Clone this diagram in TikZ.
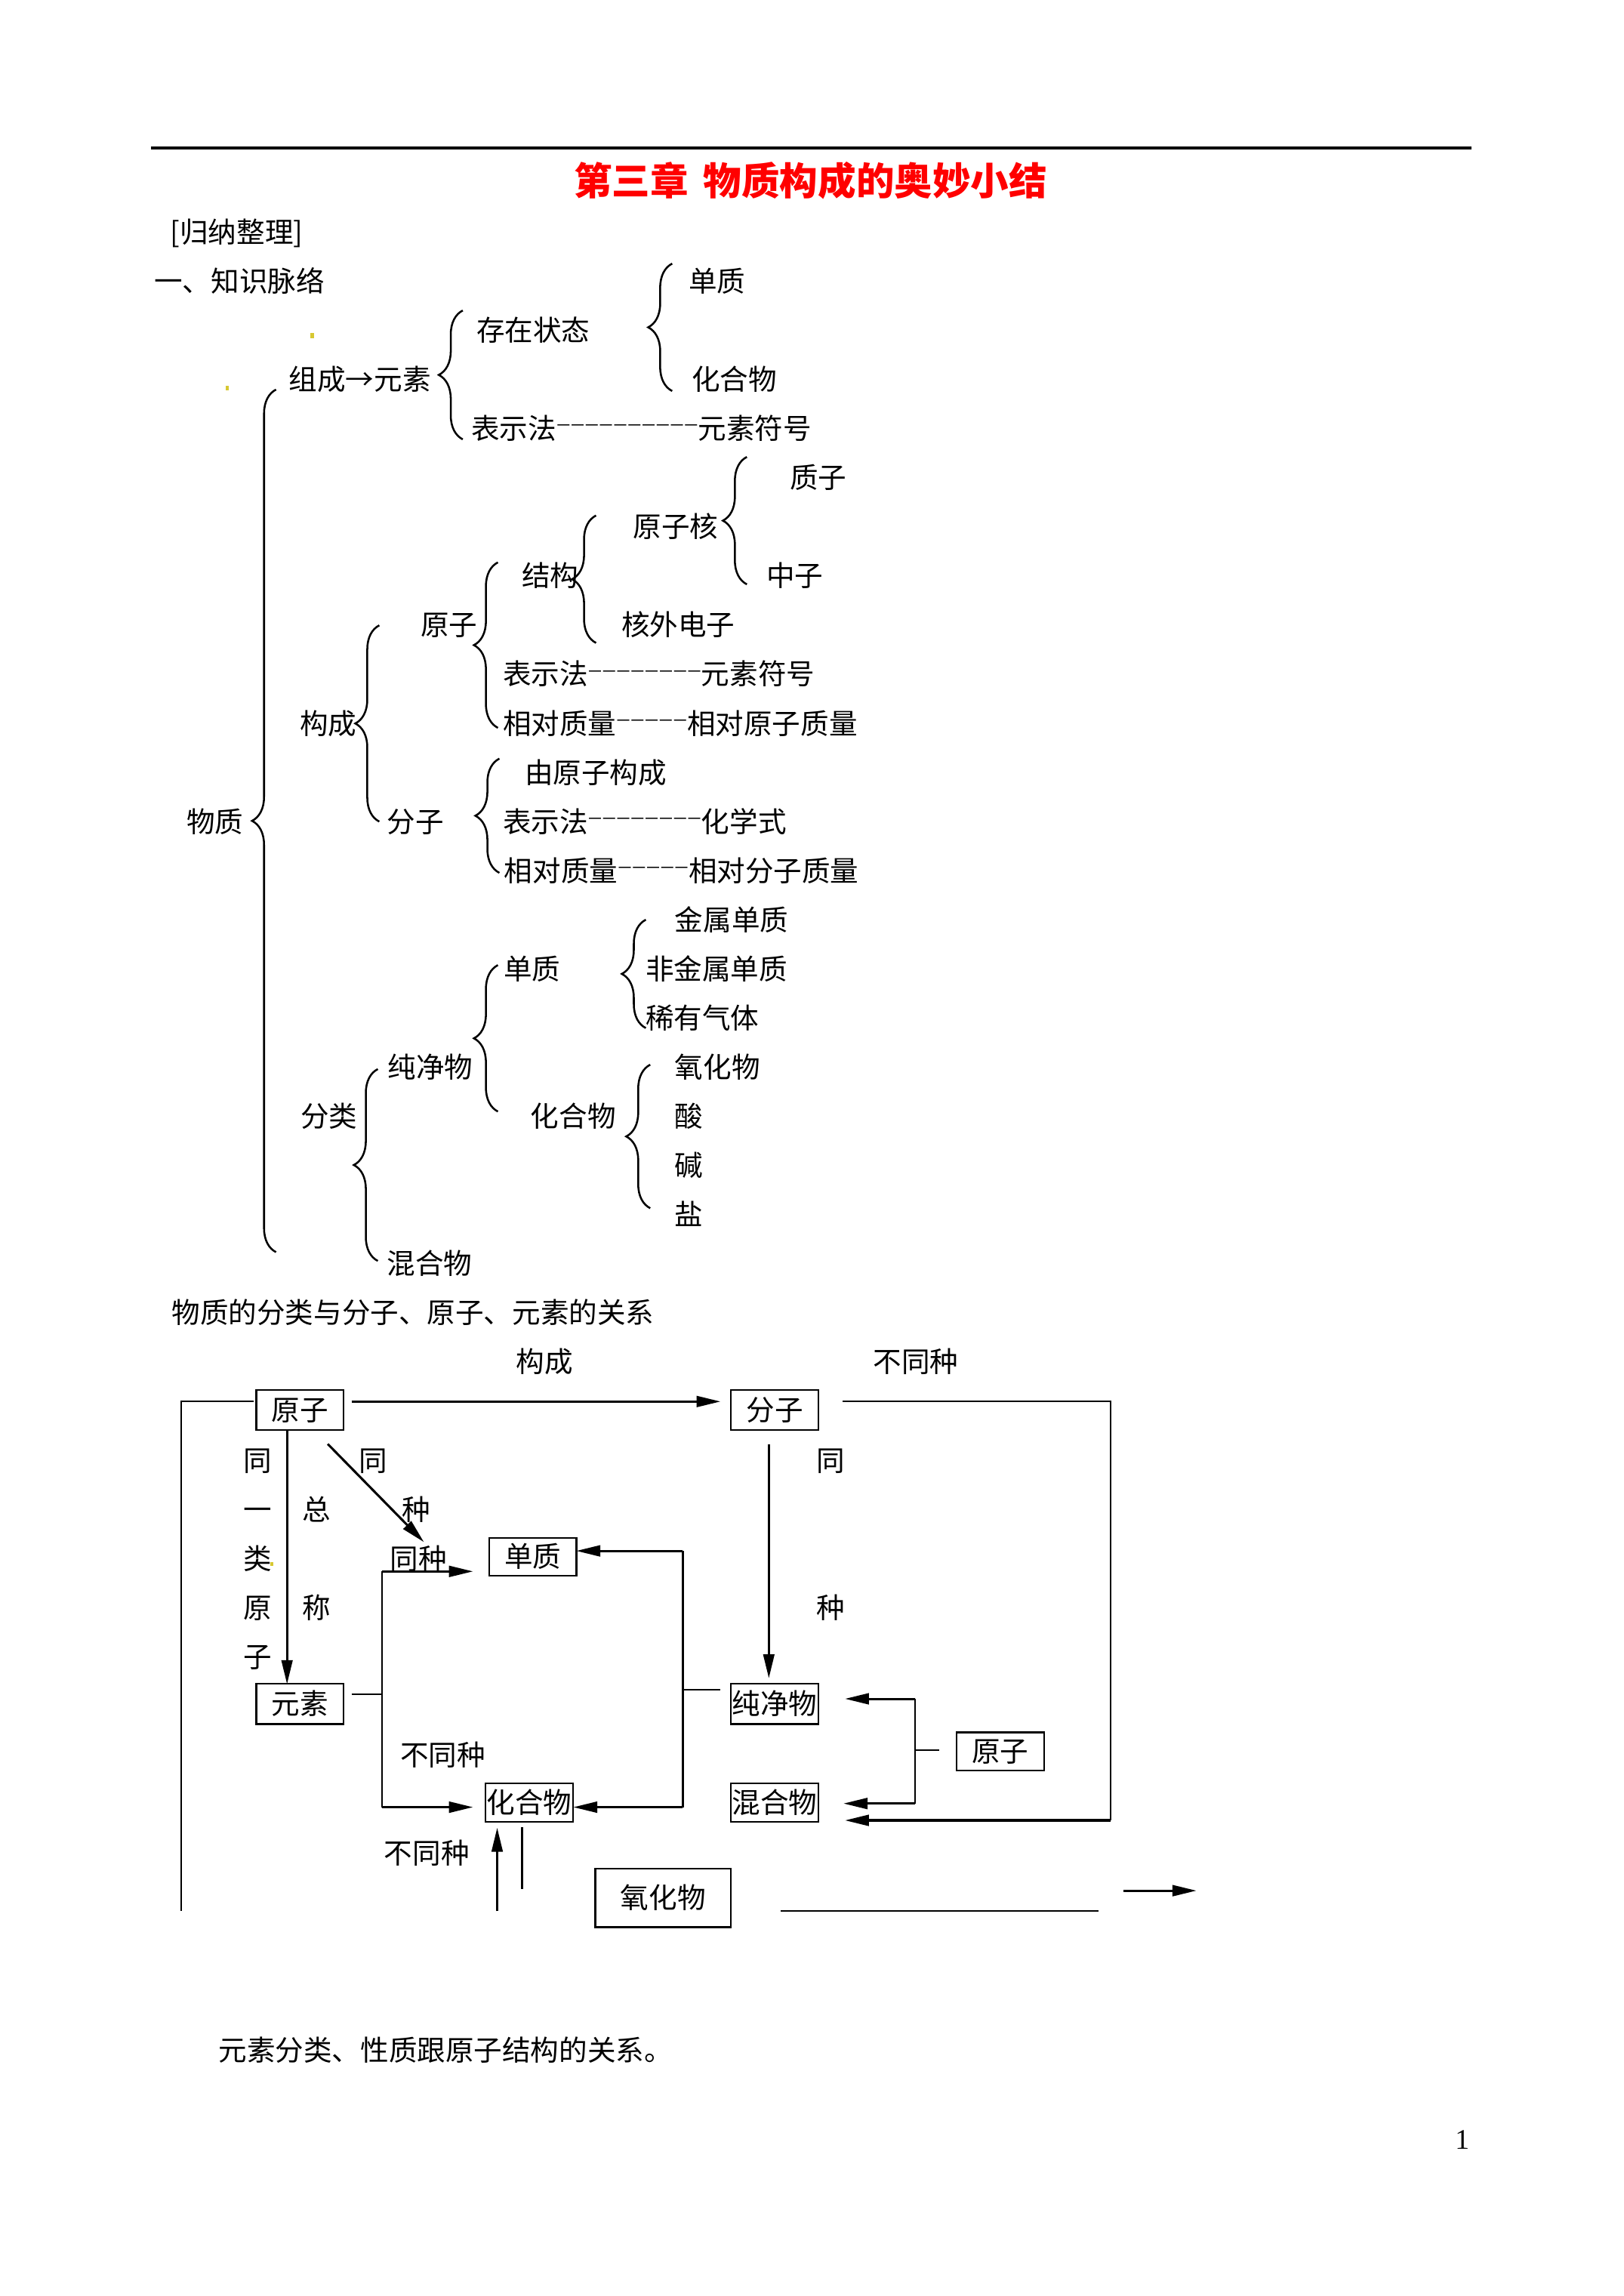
\documentclass[tikz,border=0pt]{standalone}
\usepackage{fontspec}
\newfontfamily\zh{Noto Sans CJK SC}
\newfontfamily\lat{Liberation Serif}
\usetikzlibrary{decorations.pathreplacing,arrows.meta}
\newcommand\dsh{\kern0.45pt\raisebox{3pt}{\lat\fontsize{8.6pt}{10pt}\selectfont –}\kern0.45pt}
\begin{document}
\begin{tikzpicture}[x=0.537pt,y=-0.537pt,
  txt/.style={inner sep=0pt,anchor=west,font=\zh\fontsize{10.4pt}{12pt}\selectfont,text height=8.5pt,text depth=0.83pt},
  ttl/.style={inner sep=0pt,anchor=center,text=red,font=\zh\bfseries\fontsize{14pt}{16pt}\selectfont},
  box/.style={draw,line width=0.6pt,inner sep=0pt,minimum width=32pt,minimum height=14.77pt,font=\zh\fontsize{10.4pt}{12pt}\selectfont,text height=8.5pt,text depth=0.83pt},
  brc/.style={draw,line width=0.7pt,decorate,decoration={brace,amplitude=8.8pt}},
  arr/.style={draw,line width=0.85pt,-{Triangle[length=8.8pt,width=4pt]}},
  ln/.style={draw,line width=0.6pt},
  speck/.style={fill={rgb,255:red,215;green,200;blue,50}}]
\fill[white] (0,0) rectangle (1108.5,1567.8);
\path[use as bounding box] (0,0) rectangle (1108.5,1567.8);

% header
\coordinate (rL) at (103,101); \coordinate (rR) at (1005,101);
\draw[line width=0.9pt] (rL) -- (rR);
\node[ttl] (title) at (553.5,123.5) {第三章\hspace{5.5pt}物质构成的奥妙小结};
\node[txt] (gn) at (116,158.5) {[归纳整理]};
\node[txt] (zs) at (105,192) {一、知识脉络};

% tree: composition
\node[txt] (zc) at (197,259.1) {组成→元素};
\node[txt] (czzt) at (325,225.6) {存在状态};
\node[txt] (dz1) at (470,192) {单质};
\node[txt] (hhw1) at (472,259.1) {化合物};
\node[txt] (bsf1) at (321.5,292.7) {表示法\dsh\dsh\dsh\dsh\dsh\dsh\dsh\dsh\dsh\dsh 元素符号};

% tree: structure
\node[txt] (zz) at (539,326.2) {质子};
\node[txt] (yzh) at (432,359.8) {原子核};
\node[txt] (jg) at (356,393.3) {结构};
\node[txt] (zhz) at (523,393.3) {中子};
\node[txt] (yz) at (287,426.9) {原子};
\node[txt] (hwdz) at (424,426.9) {核外电子};
\node[txt] (bsf2) at (343,460.4) {表示法\dsh\dsh\dsh\dsh\dsh\dsh\dsh\dsh 元素符号};
\node[txt] (gc) at (204.5,494) {构成};
\node[txt] (xdzl1) at (343,494) {相对质量\dsh\dsh\dsh\dsh\dsh 相对原子质量};
\node[txt] (yyzgc) at (358,527.5) {由原子构成};
\node[txt] (wz) at (127,561) {物质};
\node[txt] (fz) at (264,561) {分子};
\node[txt] (bsf3) at (343,561) {表示法\dsh\dsh\dsh\dsh\dsh\dsh\dsh\dsh 化学式};
\node[txt] (xdzl2) at (344,594.6) {相对质量\dsh\dsh\dsh\dsh\dsh 相对分子质量};

% tree: classification
\node[txt] (jsdz) at (460.5,628.2) {金属单质};
\node[txt] (dz2) at (343.5,661.7) {单质};
\node[txt] (fjsdz) at (440.5,661.7) {非金属单质};
\node[txt] (xyqt) at (440.5,695.3) {稀有气体};
\node[txt] (cjw) at (264.5,728.8) {纯净物};
\node[txt] (yhw1) at (460.5,728.8) {氧化物};
\node[txt] (fl) at (205,762.4) {分类};
\node[txt] (hhw2) at (362,762.4) {化合物};
\node[txt] (suan) at (460.5,762.4) {酸};
\node[txt] (jian) at (460.5,795.9) {碱};
\node[txt] (yan) at (460.5,829.5) {盐};
\node[txt] (hhw3) at (264,863) {混合物};

% braces (x of the ends, bottom, top)
\coordinate (b1a) at (316,300); \coordinate (b1b) at (316,212);
\draw[brc] (b1a) -- (b1b);
\coordinate (b2a) at (459,267); \coordinate (b2b) at (459,180);
\draw[brc] (b2a) -- (b2b);
\coordinate (b3a) at (259,561); \coordinate (b3b) at (259,427);
\draw[brc] (b3a) -- (b3b);
\coordinate (b4a) at (340,497); \coordinate (b4b) at (340,384);
\draw[brc] (b4a) -- (b4b);
\coordinate (b5a) at (407,439); \coordinate (b5b) at (407,352);
\draw[brc] (b5a) -- (b5b);
\coordinate (b6a) at (510,399); \coordinate (b6b) at (510,312);
\draw[brc] (b6a) -- (b6b);
\coordinate (b7a) at (341,596); \coordinate (b7b) at (341,518);
\draw[brc] (b7a) -- (b7b);
\coordinate (b8a) at (258,861); \coordinate (b8b) at (258,730);
\draw[brc] (b8a) -- (b8b);
\coordinate (b9a) at (340,759); \coordinate (b9b) at (340,659);
\draw[brc] (b9a) -- (b9b);
\coordinate (b10a) at (441,702); \coordinate (b10b) at (441,628);
\draw[brc] (b10a) -- (b10b);
\coordinate (b11a) at (444,825); \coordinate (b11b) at (444,727);
\draw[brc] (b11a) -- (b11b);
\coordinate (b12a) at (188.5,855); \coordinate (b12b) at (188.5,266);
\draw[brc] (b12a) -- (b12b);

% small specks
\fill[speck] (212,227.5) rectangle (214.5,231);
\fill[speck] (154,263.5) rectangle (156,266.5);
\fill[speck] (184.5,1066.5) rectangle (186.5,1069.5);

% lower diagram
\node[txt] (gx) at (117,896.5) {物质的分类与分子、原子、元素的关系};
\node[txt] (lgc) at (352,930) {构成};
\node[txt] (lbt1) at (596,930) {不同种};

\node[box] (A) at (204.8,962.7) {原子};
\node[box] (M) at (529,962.7) {分子};
\node[box,minimum height=14pt] (S) at (363.8,1063) {单质};
\node[box] (E) at (204.8,1163.5) {元素};
\node[box] (P) at (529,1163.5) {纯净物};
\node[box,minimum height=14.2pt] (C) at (361.5,1230.8) {化合物};
\node[box,minimum height=14.2pt] (X) at (529,1230.8) {混合物};
\node[box,minimum height=14pt] (A2) at (683,1196) {原子};
\node[box,line width=0.8pt,minimum width=49.7pt,minimum height=21.5pt] (O) at (452.8,1296) {氧化物};

\node[txt] (v1) at (166,997.2) {同};
\node[txt] (v2) at (166,1030.75) {一};
\node[txt] (v3) at (166,1064.3) {类};
\node[txt] (v4) at (166,1097.85) {原};
\node[txt] (v5) at (166,1131.4) {子};
\node[txt] (zo) at (206,1030.75) {总};
\node[txt] (ch) at (206,1097.85) {称};
\node[txt] (dt) at (245,997.2) {同};
\node[txt] (dzh) at (274,1030.75) {种};
\node[txt] (tz) at (266,1064.3) {同种};
\node[txt] (rt) at (557,997.2) {同};
\node[txt] (rz) at (557,1097.85) {种};
\node[txt] (lbt2) at (273,1198.5) {不同种};
\node[txt] (lbt3) at (262,1265.6) {不同种};
\node[txt] (ysfl) at (149,1399.8) {元素分类、性质跟原子结构的关系。};
\node[inner sep=0pt,font=\lat\fontsize{10.4pt}{12pt}\selectfont] (pg) at (998.5,1461) {1};

% connectors
\coordinate (a1) at (240,957); \coordinate (a2) at (492,957);
\draw[arr] (a1) -- (a2);
\coordinate (m1) at (575.5,957); \coordinate (m2) at (758.5,957);
\coordinate (m3) at (758.5,1243); \coordinate (m4) at (577,1243);
\draw[ln] (m1) -- (m2) -- (m3);
\draw[arr] (m3) -- (m4);
\coordinate (l1) at (173,957); \coordinate (l2) at (123.6,957); \coordinate (l3) at (123.6,1305);
\draw[ln] (l1) -- (l2) -- (l3);
\coordinate (d1) at (196,976.5); \coordinate (d2) at (196,1150);
\draw[arr] (d1) -- (d2);
\coordinate (g1) at (223.8,986); \coordinate (g2) at (289.5,1053);
\draw[arr] (g1) -- (g2);
\coordinate (e1) at (240,1157); \coordinate (e2) at (261,1157);
\draw[ln] (e1) -- (e2);
\coordinate (k1) at (261,1073); \coordinate (k2) at (261,1234);
\coordinate (k3) at (323,1073); \coordinate (k4) at (323,1234);
\draw[ln] (k1) -- (k2);
\draw[arr] (k1) -- (k3);
\draw[arr] (k2) -- (k4);
\coordinate (r1) at (466.3,1059); \coordinate (r2) at (466.3,1234);
\coordinate (r3) at (393.5,1059); \coordinate (r4) at (391.5,1234);
\draw[ln] (r1) -- (r2);
\draw[arr] (r1) -- (r3);
\draw[arr] (r2) -- (r4);
\coordinate (p1) at (491.6,1154); \coordinate (p2) at (466.3,1154);
\draw[ln] (p1) -- (p2);
\coordinate (md1) at (525,986); \coordinate (md2) at (525,1146);
\draw[arr] (md1) -- (md2);
\coordinate (q1) at (625,1160); \coordinate (q2) at (625,1231.5);
\coordinate (q3) at (577,1160); \coordinate (q4) at (576,1231.5);
\coordinate (q5) at (625,1195); \coordinate (q6) at (641.5,1195);
\draw[ln] (q1) -- (q2);
\draw[arr] (q1) -- (q3);
\draw[arr] (q2) -- (q4);
\draw[ln] (q5) -- (q6);
\coordinate (u1) at (339.5,1305); \coordinate (u2) at (339.5,1248);
\draw[arr] (u1) -- (u2);
\coordinate (vv1) at (356.5,1247.5); \coordinate (vv2) at (356.5,1290);
\draw[ln] (vv1) -- (vv2);
\coordinate (w1) at (533,1305); \coordinate (w2) at (750,1305);
\draw[ln] (w1) -- (w2);
\coordinate (z1) at (767,1291); \coordinate (z2) at (817,1291);
\draw[arr] (z1) -- (z2);
\end{tikzpicture}
\end{document}
